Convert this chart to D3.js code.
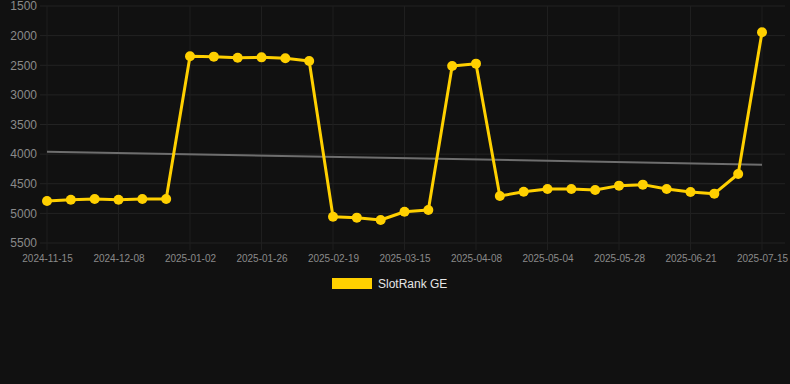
<!DOCTYPE html>
<html>
<head>
<meta charset="utf-8">
<script src="https://cdn.jsdelivr.net/npm/d3@7"></script>
<style>
  html, body { margin: 0; padding: 0; background: #111111; }
  svg { display: block; font-family: "Liberation Sans", Arial, sans-serif; }
</style>
</head>
<body>
<div id="chart"></div>
<script>
const width = 790, height = 384;

// categories (one point every ~8 days, every third one labelled)
const dates = [
  "2024-11-15", "2024-11-23", "2024-11-30", "2024-12-08", "2024-12-16", "2024-12-24",
  "2025-01-02", "2025-01-10", "2025-01-18", "2025-01-26", "2025-02-03", "2025-02-11",
  "2025-02-19", "2025-02-27", "2025-03-07", "2025-03-15", "2025-03-23", "2025-03-31",
  "2025-04-08", "2025-04-17", "2025-04-26", "2025-05-04", "2025-05-12", "2025-05-20",
  "2025-05-28", "2025-06-05", "2025-06-13", "2025-06-21", "2025-06-29", "2025-07-07",
  "2025-07-15"
];
const rank = [
  4791, 4769, 4757, 4769, 4757, 4757,
  2349, 2355, 2372, 2367, 2383, 2428,
  5056, 5072, 5112, 4972, 4943, 2513,
  2473, 4707, 4634, 4589, 4589, 4606,
  4532, 4515, 4589, 4639, 4667, 4335,
  1944
];
const trend = [3960, 4178]; // first and last category
const yTicks = [1500, 2000, 2500, 3000, 3500, 4000, 4500, 5000, 5500];
const seriesName = "SlotRank GE";

const svg = d3.select("#chart").append("svg")
    .attr("width", width)
    .attr("height", height);

const x = d3.scalePoint()
    .domain(dates)
    .range([47, 762]);

const y = d3.scaleLinear()
    .domain([1500, 5500])
    .range([6, 243]);

const labelled = dates.filter((d, i) => i % 3 === 0);

// grid
svg.append("g")
    .selectAll("line")
    .data(yTicks)
    .enter().append("line")
    .attr("x1", 40).attr("x2", 785)
    .attr("y1", d => y(d)).attr("y2", d => y(d))
    .attr("stroke", "#232323")
    .attr("stroke-width", 1);

svg.append("g")
    .selectAll("line")
    .data(labelled)
    .enter().append("line")
    .attr("x1", d => x(d)).attr("x2", d => x(d))
    .attr("y1", y(1500)).attr("y2", y(5500) + 7)
    .attr("stroke", "#1f1f1f")
    .attr("stroke-width", 1);

// y axis labels
svg.append("g")
    .attr("transform", "translate(37,0)")
    .call(d3.axisLeft(y).tickValues(yTicks).tickSize(0).tickPadding(0).tickFormat(d3.format("d")))
    .call(g => g.select(".domain").remove())
    .call(g => g.selectAll("text")
        .attr("fill", "#8a8a8a")
        .style("font-size", "12px")
        .style("font-family", "Liberation Sans, Arial, sans-serif"));

// x axis labels
svg.append("g")
    .attr("transform", "translate(0," + (y(5500) + 10) + ")")
    .call(d3.axisBottom(x).tickValues(labelled).tickSize(0).tickPadding(2))
    .call(g => g.select(".domain").remove())
    .call(g => g.selectAll("text")
        .attr("fill", "#8a8a8a")
        .style("font-size", "10px")
        .style("font-family", "Liberation Sans, Arial, sans-serif"));

// trend line
svg.append("line")
    .attr("x1", x(dates[0])).attr("x2", x(dates[dates.length - 1]))
    .attr("y1", y(trend[0])).attr("y2", y(trend[1]))
    .attr("stroke", "#6e6e6e")
    .attr("stroke-width", 2);

// series
const line = d3.line()
    .x((d, i) => x(dates[i]))
    .y(d => y(d));

svg.append("path")
    .datum(rank)
    .attr("d", line)
    .attr("fill", "none")
    .attr("stroke", "#ffd000")
    .attr("stroke-width", 3)
    .attr("stroke-linejoin", "round");

svg.append("g")
    .selectAll("circle")
    .data(rank)
    .enter().append("circle")
    .attr("cx", (d, i) => x(dates[i]))
    .attr("cy", d => y(d))
    .attr("r", 5)
    .attr("fill", "#ffd000");

// legend
const legend = svg.append("g")
    .attr("transform", "translate(332,278)");

legend.append("rect")
    .attr("width", 40)
    .attr("height", 11)
    .attr("fill", "#ffd000");

legend.append("text")
    .attr("x", 46)
    .attr("y", 10)
    .attr("fill", "#e6e6e6")
    .style("font-size", "12px")
    .text(seriesName);
</script>
</body>
</html>
